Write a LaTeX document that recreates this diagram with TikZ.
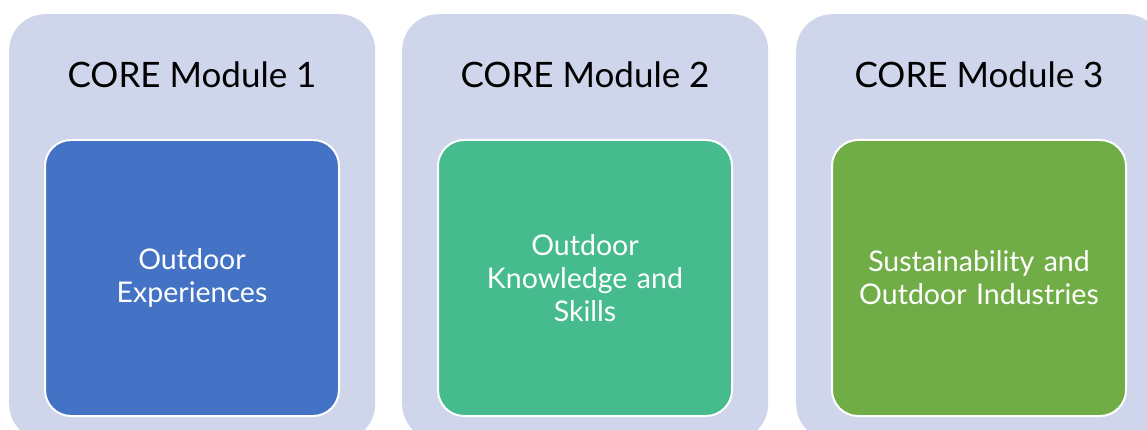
\documentclass[tikz,border=0pt]{standalone}
\usepackage{fontspec}
\setmainfont{Lato}
\usetikzlibrary{positioning}
\definecolor{panelfill}{HTML}{CFD5EA}
\definecolor{modblue}{HTML}{4472C4}
\definecolor{modteal}{HTML}{45BB8E}
\definecolor{modgreen}{HTML}{70AD47}
\tikzset{
  panel/.style={fill=panelfill, draw=none, rounded corners=36pt, minimum width=366pt, minimum height=426pt, anchor=north west, inner sep=0pt},
  modtitle/.style={anchor=base, inner sep=0pt, font=\fontsize{35}{40}\selectfont},
  modbox/.style={draw=white, line width=2pt, rounded corners=26pt, minimum width=294pt, minimum height=276pt, text width=280pt, align=center, text=white, inner sep=0pt, font=\fontsize{28.5}{33}\selectfont}
}
\newcommand{\module}[5]{ \node[panel] (panel#1) at ( #2 , 14 ) {}; \node[modtitle] (title#1) at ( #2 + 183 , 88 ) {#3}; \node[modbox, fill=#4] (box#1) at ( #2 + 183 , 278 ) {#5};}

\begin{document}
\begin{tikzpicture}[x=1pt,y=-1pt]
        \useasboundingbox (0,0) rectangle (1147,430);
        \clip (0,0) rectangle (1147,430);
        \module{1}{9}{CORE Module 1}{modblue}{Outdoor\\Experiences}
        \module{2}{402}{CORE Module 2}{modteal}{Outdoor\\Knowledge and\\Skills}
        \module{3}{796}{CORE Module 3}{modgreen}{Sustainability and\\Outdoor Industries}
    \end{tikzpicture}
\end{document}
